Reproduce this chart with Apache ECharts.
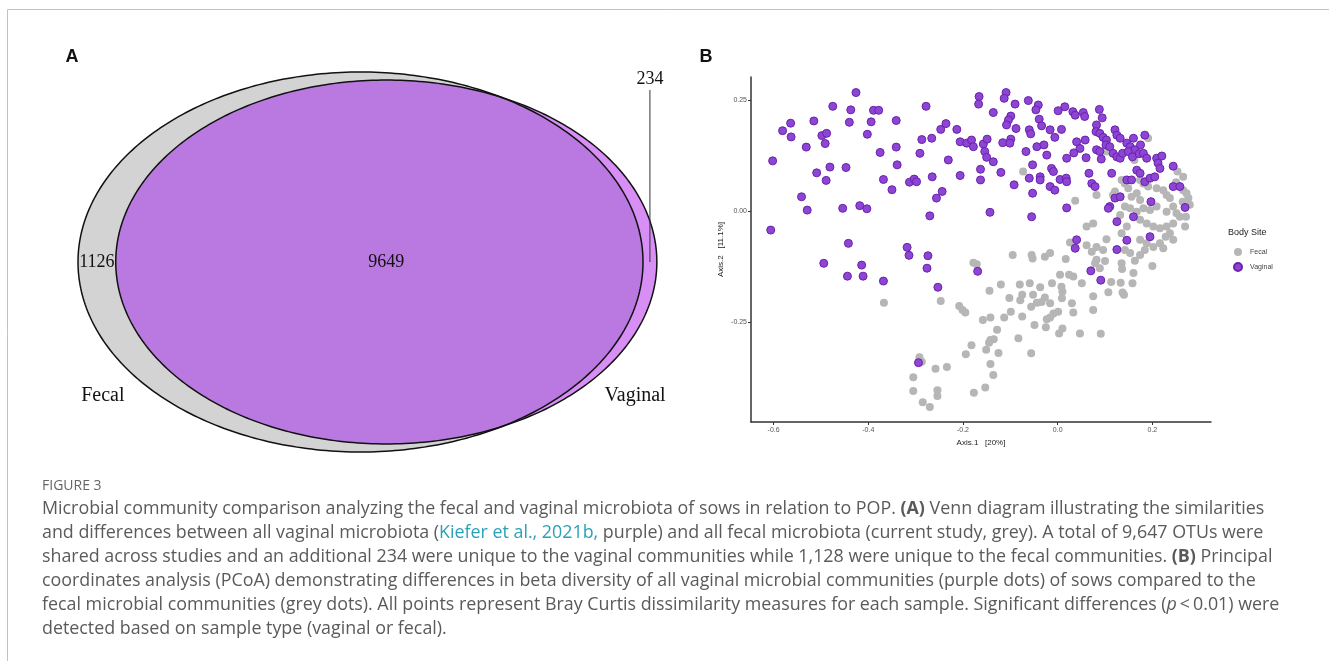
<!DOCTYPE html>
<html><head><meta charset="utf-8">
<script src="https://cdn.jsdelivr.net/npm/echarts@6/dist/echarts.min.js"></script>
<style>html,body{margin:0;padding:0;background:#fff}#main{width:1329px;height:661px}</style>
</head><body><div id="main"></div>
<script>
// ---------- DATA ----------
const vennSets = ['Fecal', 'Vaginal'];
const vennCounts = [1126, 9649, 234]; // fecal only, shared, vaginal only
const seriesNames = ['Fecal', 'Vaginal'];
const legendTitle = 'Body Site';
const xTicks = [-0.6, -0.4, -0.2, 0.0, 0.2];
const xTickLabels = ['-0.6', '-0.4', '-0.2', '0.0', '0.2'];
const yTicks = [-0.25, 0.0, 0.25];
const yTickLabels = ['-0.25', '0.00', '0.25'];
const xAxisName = 'Axis.1   [20%]';
const yAxisName = 'Axis.2   [11.1%]';

const fecalPts = [
[-0.367,-0.207],[-0.247,-0.203],[-0.208,-0.214],[-0.201,-0.223],[-0.195,-0.229],[-0.292,-0.330],[-0.287,-0.340],
[-0.258,-0.356],[-0.234,-0.352],[-0.305,-0.375],[-0.305,-0.406],[-0.254,-0.404],[-0.254,-0.417],[-0.285,-0.431],
[-0.270,-0.442],[-0.178,-0.117],[-0.171,-0.120],[-0.144,-0.180],[-0.120,-0.166],[-0.080,-0.166],[-0.059,-0.163],
[-0.102,-0.196],[-0.075,-0.189],[-0.079,-0.201],[-0.052,-0.189],[-0.056,-0.216],[-0.044,-0.207],[-0.099,-0.227],
[-0.113,-0.240],[-0.158,-0.246],[-0.142,-0.240],[-0.075,-0.238],[-0.049,-0.257],[-0.128,-0.268],[-0.142,-0.291],
[-0.135,-0.289],[-0.145,-0.297],[-0.083,-0.287],[-0.182,-0.303],[-0.194,-0.323],[-0.151,-0.313],[-0.125,-0.320],
[-0.056,-0.321],[-0.142,-0.345],[-0.136,-0.370],[-0.177,-0.410],[-0.153,-0.398],[-0.095,-0.099],[-0.055,-0.099],
[-0.053,-0.107],[-0.027,-0.103],[-0.016,-0.095],[0.017,-0.108],[0.061,-0.077],[0.072,-0.092],[0.174,-0.099],
[0.184,-0.088],[0.202,-0.081],[0.216,-0.073],[0.223,-0.084],[0.163,-0.112],[0.200,-0.124],[0.082,-0.110],
[0.079,-0.118],[0.089,-0.129],[0.100,-0.113],[0.135,-0.118],[0.136,-0.131],[0.160,-0.140],[0.113,-0.160],
[0.133,-0.162],[0.158,-0.163],[0.107,-0.183],[0.137,-0.184],[0.140,-0.189],[0.075,-0.192],[0.075,-0.223],
[0.091,-0.277],[0.047,-0.276],[0.033,-0.229],[0.030,-0.208],[0.008,-0.171],[0.010,-0.182],[0.009,-0.197],
[0.024,-0.144],[0.033,-0.148],[0.051,-0.163],[0.005,-0.144],[-0.012,-0.163],[-0.037,-0.172],[-0.034,-0.205],
[-0.027,-0.195],[-0.016,-0.208],[0.001,-0.227],[-0.009,-0.231],[-0.016,-0.240],[-0.023,-0.244],[-0.025,-0.262],
[0.010,-0.265],[0.003,-0.276],
[-0.073,0.089],[0.103,0.134],[0.037,0.023],[0.082,0.036],[0.117,0.036],[0.121,0.044],[0.135,0.070],
[0.142,0.062],[0.149,0.051],[0.162,0.115],[0.174,0.070],[0.181,0.062],[0.191,0.055],[0.191,0.164],
[0.156,0.032],[0.167,0.040],[0.174,0.025],[0.209,0.051],[0.223,0.047],[0.230,0.036],[0.237,0.029],
[0.265,0.047],[0.272,0.040],[0.253,0.089],[0.276,0.029],[0.279,0.014],[0.142,0.010],[0.153,0.006],
[0.167,-0.002],[0.181,0.006],[0.195,0.002],[0.209,0.010],[0.230,-0.002],[0.244,0.010],[0.251,-0.005],
[0.258,-0.013],[0.174,-0.020],[0.188,-0.028],[0.202,-0.035],[0.216,-0.039],[0.230,-0.035],[0.244,-0.028],
[0.132,-0.009],[0.146,-0.035],[0.135,-0.050],[0.061,-0.035],[0.075,-0.028],[0.103,-0.064],[0.082,-0.081],
[0.096,-0.088],[0.174,-0.065],[0.188,-0.073],[0.026,-0.071],[0.142,-0.088],[0.153,-0.095],[0.237,-0.050],
[0.244,-0.065],[0.269,-0.035],[0.264,0.021],[0.271,-0.013],[0.228,-0.058],[0.265,0.077],[0.250,0.065]
];

const vaginalPts = [
[-0.426,0.267],[-0.475,0.236],[-0.437,0.228],[-0.389,0.227],[-0.378,0.227],[-0.278,0.236],
[-0.581,0.181],[-0.564,0.198],[-0.563,0.167],[-0.515,0.203],[-0.440,0.200],[-0.394,0.201],[-0.341,0.204],
[-0.498,0.170],[-0.488,0.175],[-0.491,0.152],[-0.402,0.173],[-0.531,0.144],[-0.602,0.113],[-0.375,0.132],
[-0.341,0.144],[-0.287,0.161],[-0.266,0.164],[-0.247,0.184],[-0.236,0.197],[-0.213,0.184],[-0.291,0.130],
[-0.231,0.115],[-0.509,0.086],[-0.481,0.099],[-0.447,0.098],[-0.489,0.069],[-0.339,0.104],[-0.368,0.071],
[-0.350,0.048],[-0.313,0.065],[-0.303,0.072],[-0.298,0.066],[-0.265,0.077],[-0.244,0.044],[-0.256,0.029],
[-0.206,0.080],[-0.206,0.156],[-0.541,0.032],[-0.529,0.002],[-0.454,0.006],[-0.418,0.012],[-0.403,0.005],
[-0.270,-0.011],[-0.606,-0.043],[-0.442,-0.073],[-0.318,-0.082],[-0.314,-0.100],[-0.274,-0.101],
[-0.494,-0.118],[-0.414,-0.122],[-0.444,-0.147],[-0.411,-0.147],[-0.368,-0.158],[-0.276,-0.129],
[-0.253,-0.172],[-0.294,-0.342],[-0.169,-0.136],[0.040,-0.065],[0.037,-0.084],[0.125,-0.087],[0.146,-0.066],
[0.070,-0.135],[0.091,-0.156],
[-0.166,0.258],[-0.167,0.241],[-0.109,0.267],[-0.113,0.254],[-0.090,0.241],[-0.062,0.249],[-0.041,0.239],
[-0.046,0.228],[-0.136,0.222],[-0.099,0.214],[-0.104,0.205],[-0.108,0.194],[-0.088,0.186],[0.001,0.226],
[0.015,0.235],[0.032,0.224],[0.037,0.216],[0.054,0.222],[0.057,0.213],[0.088,0.229],[0.094,0.210],
[-0.039,0.207],[-0.034,0.192],[-0.016,0.183],[-0.060,0.183],[-0.057,0.174],[0.008,0.184],[-0.006,0.166],
[0.082,0.194],[0.081,0.179],[0.089,0.175],[0.096,0.166],[0.103,0.160],[0.121,0.183],[0.125,0.171],
[0.132,0.164],[0.146,0.153],[0.153,0.145],[0.163,0.138],[0.184,0.171],[0.160,0.164],[0.175,0.149],
[-0.192,0.153],[-0.182,0.160],[-0.178,0.145],[-0.157,0.151],[-0.149,0.162],[-0.154,0.134],[-0.150,0.121],
[-0.136,0.111],[-0.116,0.154],[-0.099,0.162],[-0.101,0.153],[-0.067,0.134],[-0.044,0.145],[-0.029,0.149],
[-0.023,0.126],[0.040,0.156],[0.058,0.160],[0.047,0.141],[0.034,0.131],[0.019,0.119],[0.060,0.120],
[0.082,0.138],[0.089,0.134],[0.092,0.117],[0.102,0.149],[0.110,0.145],[0.117,0.130],[0.125,0.122],
[0.132,0.119],[0.137,0.130],[0.149,0.134],[0.158,0.122],[0.172,0.129],[0.181,0.130],[0.188,0.119],
[0.209,0.119],[0.220,0.124],[0.212,0.108],[0.216,0.096],[0.244,0.101],[-0.163,0.094],[-0.163,0.070],
[-0.120,0.087],[-0.053,0.104],[-0.060,0.074],[-0.037,0.077],[-0.037,0.070],[-0.092,0.059],[-0.053,0.040],
[-0.013,0.096],[-0.009,0.089],[0.005,0.071],[0.018,0.074],[0.019,0.066],[-0.016,0.055],[-0.006,0.047],
[0.066,0.085],[0.072,0.062],[0.079,0.055],[0.114,0.085],[0.146,0.070],[0.156,0.070],[0.167,0.092],
[0.174,0.085],[0.184,0.066],[0.195,0.074],[0.205,0.077],[0.121,0.029],[0.132,0.032],[0.110,0.010],
[0.107,0.006],[0.160,-0.013],[0.125,-0.024],[0.197,0.021],[0.244,0.055],[0.258,0.055],[0.269,0.008],
[0.019,0.007],[-0.143,-0.003],[-0.055,-0.013],[0.195,-0.058]
];

const captionHead = 'FIGURE 3';
const captionLines = [
  'Microbial community comparison analyzing the fecal and vaginal microbiota of sows in relation to POP. {b|(A)} Venn diagram illustrating the similarities',
  'and differences between all vaginal microbiota ({l|Kiefer et al., 2021b,} purple) and all fecal microbiota (current study, grey). A total of 9,647 OTUs were',
  'shared across studies and an additional 234 were unique to the vaginal communities while 1,128 were unique to the fecal communities. {b|(B)} Principal',
  'coordinates analysis (PCoA) demonstrating differences in beta diversity of all vaginal microbial communities (purple dots) of sows compared to the',
  'fecal microbial communities (grey dots). All points represent Bray Curtis dissimilarity measures for each sample. Significant differences ({i|p}\u2009<\u20090.01) were',
  'detected based on sample type (vaginal or fecal).'
];

// ---------- VENN GEOMETRY (area-proportional, from counts) ----------
const fecalTotal = vennCounts[0] + vennCounts[1];
const vagTotal = vennCounts[1] + vennCounts[2];
const rF = 1, rV = Math.sqrt(vagTotal / fecalTotal);
const targetOverlap = Math.PI * rF * rF * vennCounts[1] / fecalTotal;
function clamp(v){ return Math.max(-1, Math.min(1, v)); }
function lens(d){
  const a1 = Math.acos(clamp((d*d + rF*rF - rV*rV) / (2*d*rF)));
  const a2 = Math.acos(clamp((d*d + rV*rV - rF*rF) / (2*d*rV)));
  const k = (-d+rF+rV)*(d+rF-rV)*(d-rF+rV)*(d+rF+rV);
  return rF*rF*a1 + rV*rV*a2 - 0.5*Math.sqrt(Math.max(0,k));
}
let lo = rF - rV + 1e-9, hi = rF + rV;
for (let i = 0; i < 100; i++) { const m = (lo+hi)/2; if (lens(m) > targetOverlap) lo = m; else hi = m; }
const vennD = (lo+hi)/2;

function renderVenn(params, api){
  const N = 360, fecal = [], vag = [], inter = [];
  for (let k = 0; k < N; k++) {
    const a = 2*Math.PI*k/N, c = Math.cos(a), s = Math.sin(a);
    fecal.push(api.coord([rF*c, rF*s]));
    vag.push(api.coord([vennD + rV*c, rV*s]));
    const b = vennD*c;
    const tF = -b + Math.sqrt(b*b - vennD*vennD + rF*rF);
    const t = Math.min(tF, rV);
    inter.push(api.coord([vennD + t*c, t*s]));
  }
  const serif = '"Liberation Serif", "DejaVu Serif", serif';
  const p1126 = api.coord([(-rF + vennD - rV)/2, 0]);
  const pShared = api.coord([vennD, 0]);
  const xV = (rF + vennD + rV)/2;
  const pLineB = api.coord([xV, 0]);
  const pLineT = api.coord([xV, 0.905]);
  const p234 = api.coord([xV, 0.962]);
  const pFecal = api.coord([-0.912, -0.705]);
  const pVag = api.coord([0.972, -0.705]);
  const txt = (p, t, size) => ({type:'text', x:p[0], y:p[1], style:{text:t, fontSize:size, fontFamily:serif, fill:'#111', align:'center', verticalAlign:'middle'}});
  return {type:'group', children:[
    {type:'polygon', shape:{points:fecal}, style:{fill:'#d3d3d3'}},
    {type:'polygon', shape:{points:vag}, style:{fill:'#d78ef5'}},
    {type:'polygon', shape:{points:inter}, style:{fill:'#b979e1'}},
    {type:'polygon', shape:{points:fecal}, style:{fill:'none', stroke:'#111', lineWidth:1.5}},
    {type:'polygon', shape:{points:vag}, style:{fill:'none', stroke:'#111', lineWidth:1.5}},
    {type:'line', shape:{x1:pLineB[0], y1:pLineB[1], x2:pLineT[0], y2:pLineT[1]}, style:{stroke:'#333', lineWidth:1}},
    txt(p1126, String(vennCounts[0]), 18),
    txt(pShared, String(vennCounts[1]), 18),
    txt(p234, String(vennCounts[2]), 18),
    txt(pFecal, vennSets[0], 20),
    txt(pVag, vennSets[1], 20)
  ]};
}

// ---------- CHART ----------
const chart = echarts.init(document.getElementById('main'), null, {renderer:'canvas'});
const sans = '"Liberation Sans", Arial, sans-serif';
function lookup(ticks, labels, v){ for (let i=0;i<ticks.length;i++) if (Math.abs(ticks[i]-v)<1e-9) return labels[i]; return ''; }

const capFont = '"Open Sans"';
const capSize = 17.85;
const capColor = '#5a5a5a';
const capRich = {
  b:{fontWeight:'bold', fontSize:capSize, fontFamily:capFont, fill:capColor},
  l:{fontSize:capSize, fontFamily:capFont, fill:'#2aa1b9'},
  i:{fontStyle:'italic', fontSize:capSize, fontFamily:capFont, fill:capColor}
};
const captionGraphics = captionLines.map((t, i) => ({
  type:'text', x:42, y:509 + i*24, silent:true,
  style:{text:t, fontSize:capSize, fontFamily:capFont, fill:capColor, verticalAlign:'middle', rich:capRich}
}));

const option = {
  animation:false,
  backgroundColor:'#fff',
  grid:[
    {left:78, top:72, width:565, height:380},
    {left:751, top:77, width:460, height:345}
  ],
  xAxis:[
    {gridIndex:0, type:'value', min:-1, max:1, show:false},
    {gridIndex:1, type:'value', min:-0.6477, max:0.3238,
     name:xAxisName, nameLocation:'middle', nameGap:15,
     nameTextStyle:{fontSize:8, color:'#222', fontFamily:sans},
     splitLine:{show:false},
     axisLine:{onZero:false, lineStyle:{color:'#333', width:1.5}},
     axisTick:{show:true, customValues:xTicks, length:3, lineStyle:{color:'#333', width:1}},
     axisLabel:{customValues:xTicks, formatter:v=>lookup(xTicks,xTickLabels,v), fontSize:7, color:'#555', fontFamily:sans, margin:5}}
  ],
  yAxis:[
    {gridIndex:0, type:'value', min:-1, max:1, show:false},
    {gridIndex:1, type:'value', min:-0.4758, max:0.3021,
     name:yAxisName, nameLocation:'middle', nameGap:26,
     nameTextStyle:{fontSize:8, color:'#222', fontFamily:sans},
     splitLine:{show:false},
     axisLine:{onZero:false, lineStyle:{color:'#333', width:1.5}},
     axisTick:{show:true, customValues:yTicks, length:3, lineStyle:{color:'#333', width:1}},
     axisLabel:{customValues:yTicks, formatter:v=>lookup(yTicks,yTickLabels,v), fontSize:7, color:'#555', fontFamily:sans, margin:4}}
  ],
  legend:{
    data:seriesNames.map(n=>({name:n, icon:'circle'})),
    orient:'vertical', left:1228, top:243, itemWidth:8, itemHeight:8, itemGap:6,
    selectedMode:false,
    textStyle:{fontSize:7, color:'#444', fontFamily:sans, padding:[0,0,0,3]}
  },
  series:[
    {type:'custom', xAxisIndex:0, yAxisIndex:0, data:[[0,0]], renderItem:renderVenn, clip:false, silent:true, z:1},
    {type:'scatter', name:seriesNames[0], xAxisIndex:1, yAxisIndex:1, data:fecalPts, symbolSize:8,
     itemStyle:{color:'#b6b6b6', opacity:1}, emphasis:{disabled:true}, silent:true, z:2},
    {type:'scatter', name:seriesNames[1], xAxisIndex:1, yAxisIndex:1, data:vaginalPts, symbolSize:8,
     itemStyle:{color:'#8d45d3', borderColor:'#6a22ad', borderWidth:1, opacity:1}, emphasis:{disabled:true}, silent:true, z:3}
  ],
  graphic:[
    {type:'line', silent:true, shape:{x1:7.5, y1:9.5, x2:1329, y2:9.5}, style:{stroke:'#c2c2c2', lineWidth:1}},
    {type:'line', silent:true, shape:{x1:7.5, y1:9.5, x2:7.5, y2:661}, style:{stroke:'#c2c2c2', lineWidth:1}},
    {type:'text', silent:true, x:72, y:57, style:{text:'A', fontSize:18, fontWeight:'bold', fontFamily:sans, fill:'#111', align:'center', verticalAlign:'middle'}},
    {type:'text', silent:true, x:706, y:57, style:{text:'B', fontSize:18, fontWeight:'bold', fontFamily:sans, fill:'#111', align:'center', verticalAlign:'middle'}},
    {type:'text', silent:true, x:1228, y:233, style:{text:legendTitle, fontSize:9, fontFamily:sans, fill:'#222', verticalAlign:'middle'}},
    {type:'text', silent:true, x:42, y:486, style:{text:captionHead, fontSize:14, fontFamily:capFont, fill:'#666', verticalAlign:'middle'}}
  ].concat(captionGraphics)
};
chart.setOption(option);
</script>
</body></html>
